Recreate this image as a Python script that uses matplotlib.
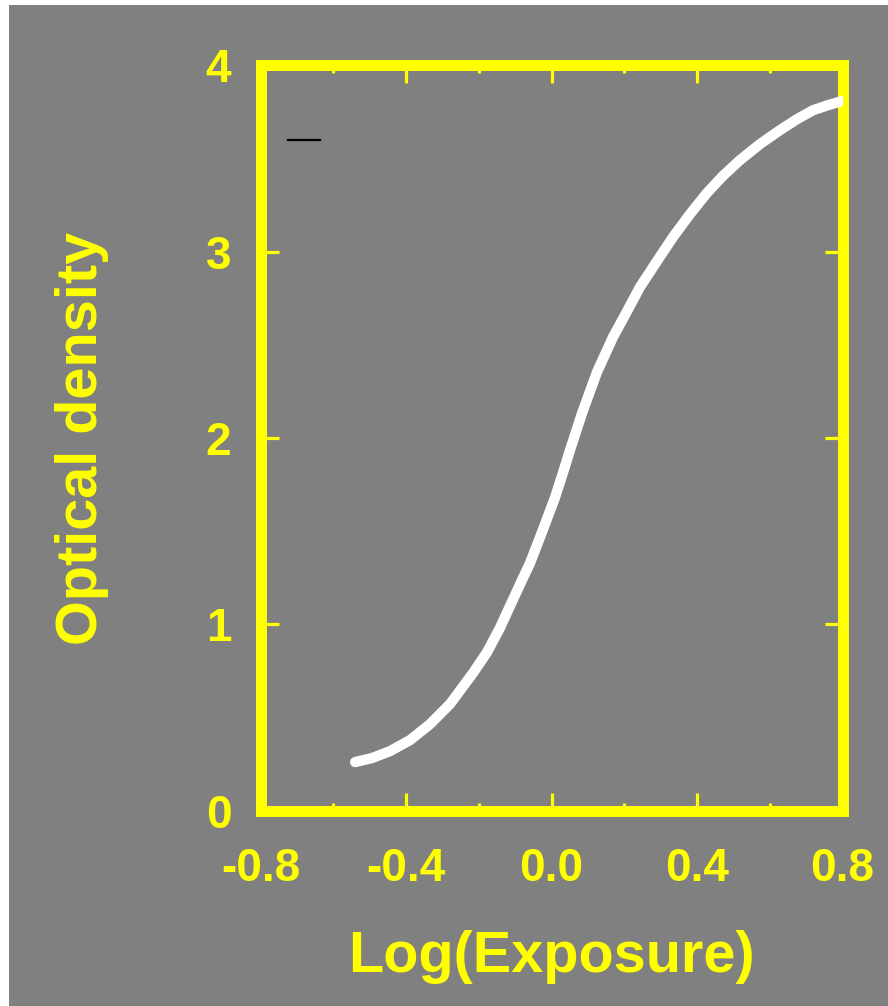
import numpy as np
import matplotlib
matplotlib.use("Agg")
import matplotlib.pyplot as plt
from matplotlib.patches import Rectangle
from matplotlib.ticker import MultipleLocator

# characteristic (H&D) curve of the film
log_exposure = [-0.540, -0.493, -0.444, -0.389, -0.334, -0.279, -0.216, -0.177,
                -0.142, -0.109, -0.081, -0.059, -0.024, 0.010, 0.032, 0.051,
                0.084, 0.125, 0.169, 0.208, 0.243, 0.290, 0.334, 0.381,
                0.427, 0.471, 0.518, 0.573, 0.628, 0.675, 0.719, 0.760, 0.800]
density = [0.260, 0.282, 0.319, 0.378, 0.464, 0.572, 0.738, 0.851,
           0.980, 1.120, 1.238, 1.329, 1.506, 1.683, 1.817, 1.936,
           2.134, 2.354, 2.542, 2.682, 2.810, 2.950, 3.079, 3.203,
           3.315, 3.407, 3.492, 3.578, 3.653, 3.712, 3.760, 3.787, 3.810]

# short black dash in the upper left
dash_x = [-0.724, -0.636]
dash_y = [3.60, 3.60]

xticks = [-0.8, -0.4, 0.0, 0.4, 0.8]
xticklabels = ["-0.8", "-0.4", "0.0", "0.4", "0.8"]
yticks = [0, 1, 2, 3, 4]

yellow = "#ffff00"
gray = "#808080"

plt.rcParams["font.family"] = ["Liberation Sans", "DejaVu Sans"]
plt.rcParams["font.weight"] = "bold"

fig = plt.figure(figsize=(8.88, 10.06), dpi=100, facecolor="white")
fig.patches.append(Rectangle((9 / 888, 0), 1, 1 - 5 / 1006,
                             transform=fig.transFigure, facecolor=gray,
                             edgecolor="none", zorder=-10))

ax = fig.add_axes([0.2934, 0.1943, 0.6554, 0.7406])
ax.set_facecolor(gray)

ax.plot(log_exposure, density, color="white", lw=7.4,
        solid_capstyle="round", solid_joinstyle="round", zorder=3)
ax.plot(dash_x, dash_y, color="black", lw=1.6, zorder=3)

ax.set_xlim(-0.8, 0.8)
ax.set_ylim(0, 4)

for s in ax.spines.values():
    s.set_color(yellow)
    s.set_linewidth(7.9)

ax.set_xticks(xticks)
ax.set_xticklabels(xticklabels)
ax.xaxis.set_minor_locator(MultipleLocator(0.2))
ax.set_yticks(yticks)

ax.tick_params(axis="both", which="both", direction="in", color=yellow,
               labelcolor=yellow, top=True, right=True, width=2.3)
ax.tick_params(axis="both", which="major", length=13, labelsize=33)
ax.tick_params(axis="both", which="minor", length=6)
ax.tick_params(axis="x", which="major", pad=26)
ax.tick_params(axis="y", which="major", pad=21)

ax.set_xlabel("Log(Exposure)", fontsize=41.5, color=yellow,
              fontweight="bold", labelpad=28)
ax.set_ylabel("Optical density", fontsize=41.5, color=yellow,
              fontweight="bold", labelpad=70)

fig.savefig("out.png", dpi=100, facecolor=fig.get_facecolor())
